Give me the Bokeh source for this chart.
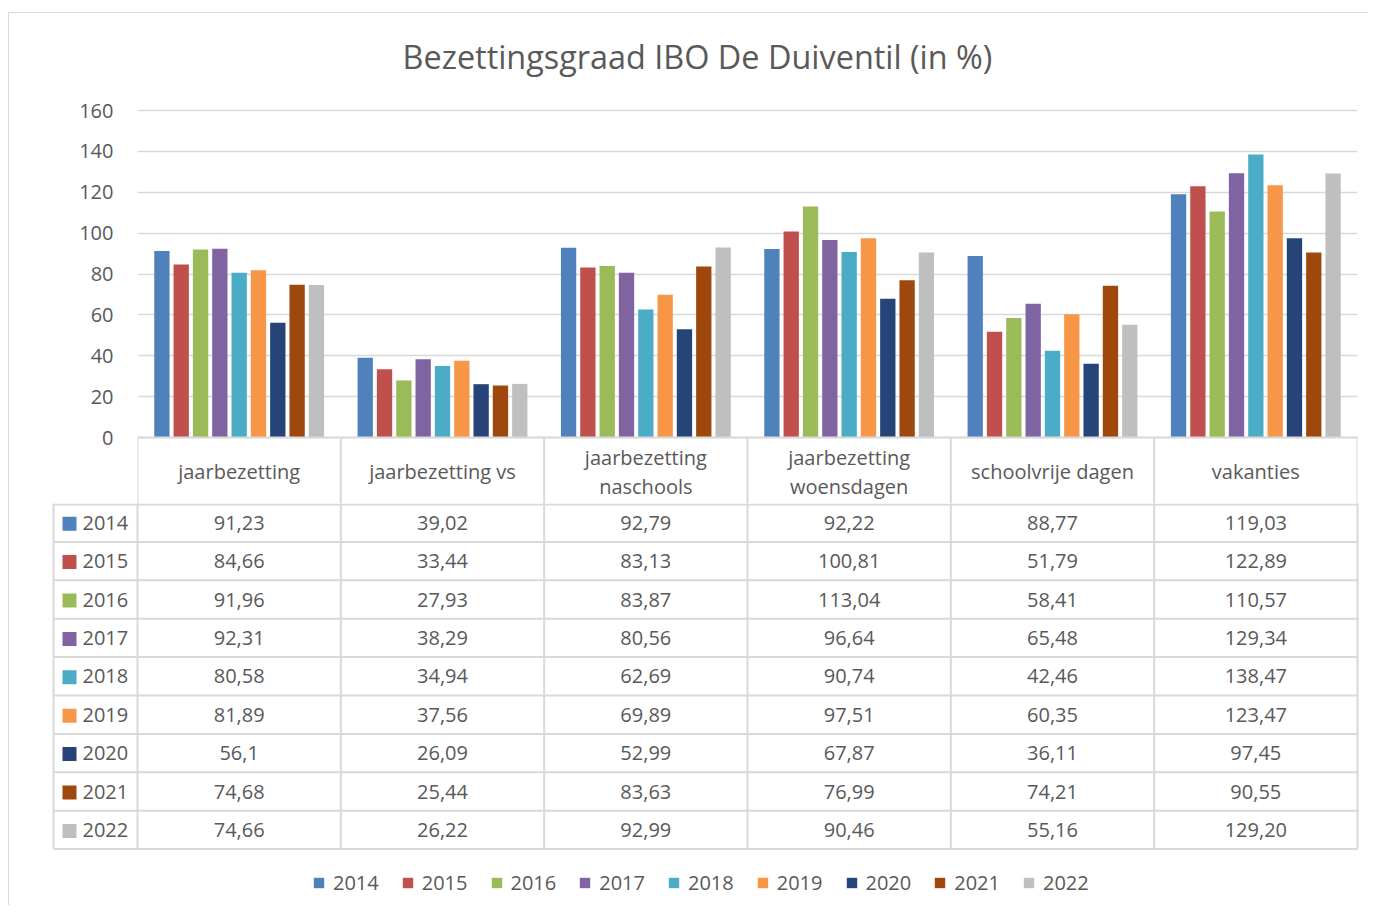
import textwrap
from bokeh.plotting import figure
from bokeh.models import (Range1d, ColumnDataSource, FixedTicker,
                          Legend, LegendItem)
from bokeh.layouts import column
from bokeh.core.properties import value
from bokeh.embed import file_html
from bokeh.resources import INLINE

# ---------------- data ----------------
title = "Bezettingsgraad IBO De Duiventil (in %)"
categories = ["jaarbezetting", "jaarbezetting vs", "jaarbezetting naschools",
              "jaarbezetting woensdagen", "schoolvrije dagen", "vakanties"]
years = ["2014", "2015", "2016", "2017", "2018", "2019", "2020", "2021", "2022"]
v2014 = ["91,23", "39,02", "92,79", "92,22", "88,77", "119,03"]
v2015 = ["84,66", "33,44", "83,13", "100,81", "51,79", "122,89"]
v2016 = ["91,96", "27,93", "83,87", "113,04", "58,41", "110,57"]
v2017 = ["92,31", "38,29", "80,56", "96,64", "65,48", "129,34"]
v2018 = ["80,58", "34,94", "62,69", "90,74", "42,46", "138,47"]
v2019 = ["81,89", "37,56", "69,89", "97,51", "60,35", "123,47"]
v2020 = ["56,1", "26,09", "52,99", "67,87", "36,11", "97,45"]
v2021 = ["74,68", "25,44", "83,63", "76,99", "74,21", "90,55"]
v2022 = ["74,66", "26,22", "92,99", "90,46", "55,16", "129,20"]
series = [v2014, v2015, v2016, v2017, v2018, v2019, v2020, v2021, v2022]
colors = ["#4F81BD", "#C0504D", "#9BBB59", "#8064A2", "#4BACC6",
          "#F79646", "#264478", "#9E480E", "#BFBFBF"]
y_ticks = [0, 20, 40, 60, 80, 100, 120, 140, 160]

# ---------------- style / layout ----------------
FONT = "Open Sans"
TXT = "#595959"
GRID = "#D9D9D9"
FS = "20px"
PITCH = 0.095
BARW = 0.0753
NC = len(categories)
YMAX = 160
TOP_H = 97           # px above the value area (title space)
BAR_H = 327          # px height of the value area
HEAD_H = 66          # px height of the table header row
ROW_H = 38.4         # px height of a table row
LINE_H = 29          # px line spacing of wrapped header labels
UNIT = BAR_H / YMAX  # px per value unit
COLW = 1220 / NC     # px per category column


def cx(px):
    # page x (px) -> column units
    return (px - 137) / COLW


# ---------------- top figure: title + bars + table header row ----------------
p1 = figure(width=1359, height=TOP_H + BAR_H + HEAD_H,
            x_range=Range1d(0, NC),
            y_range=Range1d(-HEAD_H / UNIT, YMAX + TOP_H / UNIT),
            output_backend="svg", toolbar_location=None,
            x_axis_location=None,
            min_border_left=128, min_border_right=11,
            min_border_top=0, min_border_bottom=0,
            outline_line_color=None)
p1.frame_align = False

p1.yaxis.ticker = FixedTicker(ticks=y_ticks)
p1.yaxis.axis_line_color = None
p1.yaxis.major_tick_line_color = None
p1.yaxis.minor_tick_line_color = None
p1.yaxis.major_label_standoff = 18
p1.yaxis.major_label_text_font = FONT
p1.yaxis.major_label_text_font_size = FS
p1.yaxis.major_label_text_color = TXT
p1.ygrid.grid_line_color = GRID
p1.ygrid.grid_line_width = 1.5
p1.xgrid.visible = False

p1.text(x=[cx(697)], y=[YMAX + (110 - 55) / UNIT], text=[title],
        text_align="center", text_baseline="middle",
        text_font=value(FONT), text_font_size=value("32.4px"), text_color=TXT)

for j, (yr, vals) in enumerate(zip(years, series)):
    off = (j - (len(years) - 1) / 2) * PITCH
    src = ColumnDataSource(dict(x=[i + 0.5 + off for i in range(NC)],
                                val=[float(s.replace(",", ".")) for s in vals]))
    p1.vbar(x="x", top="val", width=BARW, fill_color=colors[j],
            line_color=None, source=src)

# header row: top border, column separators, wrapped category names
p1.segment(x0=[0], y0=[0], x1=[NC], y1=[0], line_color=GRID, line_width=2)
p1.segment(x0=list(range(NC + 1)), y0=[0] * (NC + 1),
           x1=list(range(NC + 1)), y1=[-HEAD_H / UNIT] * (NC + 1),
           line_color=GRID, line_width=2)
hx, hy, ht = [], [], []
for i, c in enumerate(categories):
    lines = textwrap.wrap(c, 17)
    for k, ln in enumerate(lines):
        hx.append(i + 0.5)
        hy.append(-(34 + (k - (len(lines) - 1) / 2) * LINE_H) / UNIT)
        ht.append(ln)
p1.text(x=hx, y=hy, text=ht, text_align="center", text_baseline="middle",
        text_font=value(FONT), text_font_size=value(FS), text_color=TXT)

# ---------------- bottom figure: data rows + legend ----------------
n_rows = len(years)
table_bottom = HEAD_H + n_rows * ROW_H

p2 = figure(width=1359, height=468 - HEAD_H,
            x_range=Range1d(cx(9), cx(1368)), y_range=Range1d(468, HEAD_H),
            output_backend="svg", toolbar_location=None,
            x_axis_location=None, y_axis_location=None,
            min_border=0, min_border_left=0, min_border_right=0,
            min_border_top=0, min_border_bottom=0,
            outline_line_color=None)
p2.frame_align = False
p2.grid.visible = False

xs, ys = [], []
for k in range(NC + 1):
    xs.append([k, k])
    ys.append([HEAD_H - 1, table_bottom])
xs.append([cx(53), cx(53)])
ys.append([HEAD_H, table_bottom])
for r in range(n_rows + 1):
    y = HEAD_H + r * ROW_H + (1 if r == 0 else 0)
    xs.append([cx(53), NC])
    ys.append([y, y])
p2.multi_line(xs, ys, line_color=GRID, line_width=2)

items = []
for r, (yr, vals) in enumerate(zip(years, series)):
    yc = HEAD_H + (r + 0.5) * ROW_H
    p2.text(x=[i + 0.5 for i in range(NC)], y=[yc] * NC,
            text=vals, text_align="center", text_baseline="middle",
            text_font=value(FONT), text_font_size=value(FS), text_color=TXT)
    key = p2.rect(x=[cx(69)], y=[yc + 1], width=14, height=14,
                  width_units="screen", height_units="screen",
                  fill_color=colors[r], line_color=None)
    p2.text(x=[cx(82)], y=[yc], text=[yr], text_align="left",
            text_baseline="middle", text_font=value(FONT),
            text_font_size=value(FS), text_color=TXT)
    items.append(LegendItem(label=yr, renderers=[key]))

legend = Legend(items=items, orientation="horizontal", location=(303, 9),
                glyph_width=13, glyph_height=13, label_standoff=8, spacing=22,
                padding=0, margin=0, border_line_color=None,
                background_fill_alpha=0, label_height=20,
                label_text_font=FONT, label_text_font_size=FS,
                label_text_color=TXT)
p2.add_layout(legend)

layout = column(p1, p2, spacing=0,
                styles={"border-left": "1px solid #D9D9D9",
                        "border-top": "1px solid #D9D9D9",
                        "margin-top": "12px", "margin-left": "8px"})

open("out.html", "w").write(file_html(layout, INLINE, title="chart"))
